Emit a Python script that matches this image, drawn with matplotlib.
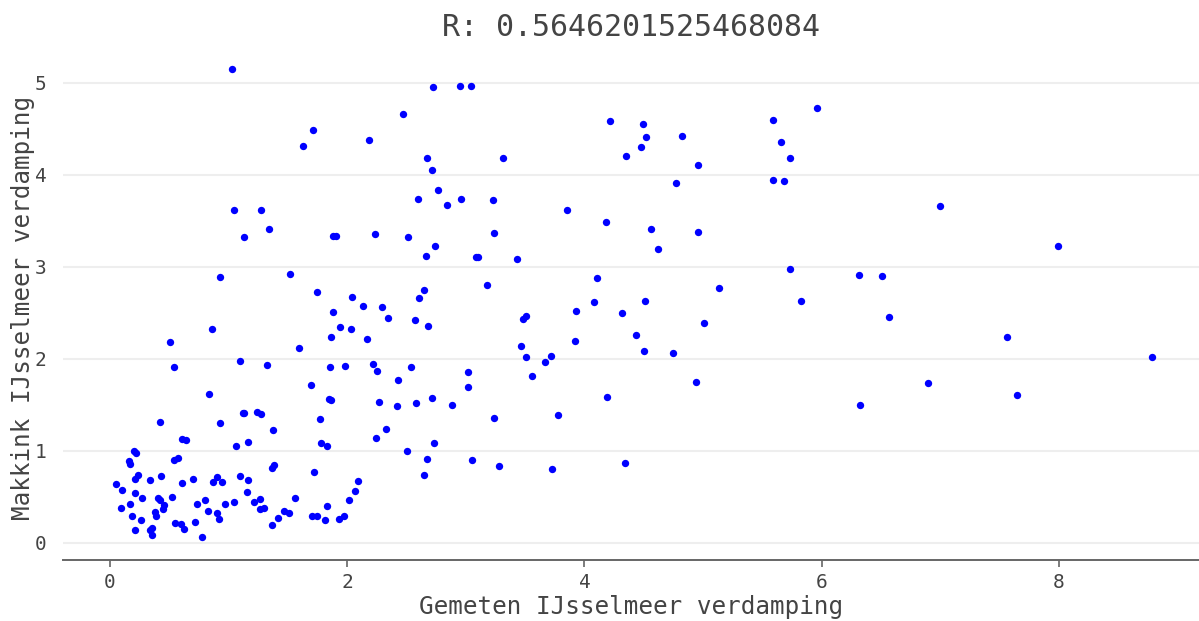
import matplotlib.pyplot as plt

# gemeten verdamping (x) tegen Makkink verdamping (y), per dag
gemeten = [
    1.694, 0.837, 1.843, 1.860, 0.419, 0.930, 1.118, 1.132, 1.242, 1.275,
    1.767, 1.377, 0.604, 0.641, 1.781, 1.829, 1.163, 1.065, 0.202, 0.219,
    0.160, 0.166, 0.537, 0.570, 1.368, 1.385, 1.717, 0.233, 0.208, 0.334,
    0.430, 0.053, 0.104, 0.213, 0.267, 0.604, 0.702, 0.899, 0.871, 0.941,
    1.098, 1.160, 1.152, 2.093, 2.068, 2.017, 0.520, 0.405, 0.424, 0.093,
    0.166, 0.453, 0.444, 0.382, 0.390, 0.183, 0.259, 0.208, 0.354, 0.340,
    0.354, 0.733, 0.803, 0.829, 0.902, 0.916, 0.967, 1.043, 0.716, 0.545,
    0.598, 0.624, 0.778, 1.214, 1.264, 1.267, 1.300, 1.466, 1.506, 1.557,
    1.368, 1.416, 1.702, 1.742, 1.810, 1.832, 1.927, 1.975,
    1.043, 1.275, 1.343, 1.129, 1.882, 1.905, 0.927, 1.517, 1.742, 2.037,
    2.130, 1.877, 1.941, 2.028, 1.865, 0.860, 1.590, 0.508, 0.542, 1.096,
    1.321, 1.854, 1.978, 1.028, 1.714, 1.627, 2.180,
    2.253, 2.430, 3.017, 3.017, 3.559, 2.265, 2.416, 2.576, 2.717, 2.880,
    4.186, 3.236, 3.773, 2.326, 2.245, 2.733, 2.501, 2.672, 3.048, 3.281,
    3.723, 4.338, 2.644,
    4.183, 2.231, 2.512, 2.739, 2.663, 3.087, 3.104, 3.239, 3.433, 3.175,
    4.102, 2.649, 2.607, 2.292, 2.343, 2.573, 2.683, 2.163, 3.503, 3.486,
    3.925, 4.082, 4.318, 4.436, 3.464, 3.922, 3.506, 3.714, 3.669, 2.219,
    2.540,
    2.722, 2.947, 3.043, 2.469, 4.217, 4.352, 2.672, 3.313, 2.716, 2.767,
    2.598, 2.840, 2.956, 3.228, 3.855,
    4.495, 4.515, 4.473, 4.818, 4.953, 4.770, 4.562, 4.616, 4.953, 5.585,
    5.959, 5.655, 5.731, 5.588, 5.681, 5.731,
    6.315, 6.509, 5.130, 4.512, 5.829, 6.563, 5.009, 4.503, 4.745, 4.941,
    7.001, 7.995, 7.563, 8.785, 6.897, 7.647, 6.324,
]
makkink = [
    1.714, 1.613, 1.559, 1.548, 1.314, 1.300, 1.414, 1.408, 1.425, 1.400,
    1.343, 1.230, 1.126, 1.116, 1.079, 1.047, 1.090, 1.047, 1.000, 0.975,
    0.889, 0.859, 0.895, 0.917, 0.816, 0.849, 0.765, 0.737, 0.690, 0.686,
    0.730, 0.640, 0.575, 0.543, 0.481, 0.646, 0.697, 0.711, 0.665, 0.662,
    0.730, 0.683, 0.553, 0.676, 0.564, 0.467, 0.495, 0.481, 0.467, 0.380,
    0.424, 0.409, 0.362, 0.337, 0.286, 0.286, 0.243, 0.138, 0.160, 0.135,
    0.084, 0.420, 0.467, 0.344, 0.326, 0.257, 0.420, 0.438, 0.229, 0.214,
    0.200, 0.146, 0.059, 0.445, 0.478, 0.365, 0.373, 0.348, 0.326, 0.481,
    0.197, 0.265, 0.290, 0.290, 0.251, 0.402, 0.257, 0.294,
    3.620, 3.620, 3.410, 3.320, 3.330, 3.330, 2.885, 2.924, 2.726, 2.672,
    2.578, 2.510, 2.344, 2.319, 2.232, 2.322, 2.121, 2.186, 1.905, 1.976,
    1.937, 1.912, 1.923, 5.150, 4.490, 4.310, 4.380,
    1.865, 1.764, 1.857, 1.692, 1.810, 1.526, 1.483, 1.519, 1.573, 1.500,
    1.587, 1.357, 1.389, 1.241, 1.133, 1.086, 0.997, 0.914, 0.903, 0.838,
    0.805, 0.867, 0.737,
    3.490, 3.357, 3.320, 3.224, 3.116, 3.110, 3.108, 3.364, 3.090, 2.802,
    2.878, 2.748, 2.661, 2.568, 2.441, 2.420, 2.351, 2.211, 2.463, 2.430,
    2.524, 2.618, 2.500, 2.261, 2.143, 2.189, 2.020, 2.035, 1.966, 1.941,
    1.905,
    4.957, 4.970, 4.967, 4.662, 4.582, 4.207, 4.182, 4.182, 4.052, 3.832,
    3.735, 3.674, 3.739, 3.728, 3.620,
    4.549, 4.413, 4.305, 4.420, 4.103, 3.916, 3.411, 3.195, 3.375, 4.597,
    4.722, 4.359, 4.178, 3.948, 3.933, 2.975,
    2.906, 2.903, 2.770, 2.632, 2.629, 2.449, 2.388, 2.085, 2.063, 1.743,
    3.663, 3.230, 2.236, 2.020, 1.739, 1.602, 1.501,
]

x_ticks = [0, 2, 4, 6, 8]
y_ticks = [0, 1, 2, 3, 4, 5]
r_value = 0.5646201525468084

text_color = '#444444'
plt.rcParams['font.family'] = ['DejaVu Sans Mono', 'DejaVu Sans']

fig = plt.figure(figsize=(11.99, 6.21), dpi=100)
ax = fig.add_axes([0.0525, 0.098, 0.9475, 0.813])

ax.scatter(gemeten, makkink, s=28, color='#0000ff', linewidths=0, zorder=3)

ax.set_xlim(-0.396, 9.18)
ax.set_ylim(-0.19, 5.3)
ax.set_xticks(x_ticks)
ax.set_yticks(y_ticks)

ax.grid(axis='y', color='#eeeeee', linewidth=1.5)
ax.set_axisbelow(True)
for side in ['left', 'right', 'top']:
    ax.spines[side].set_visible(False)
ax.spines['bottom'].set_color('#666666')
ax.spines['bottom'].set_linewidth(1.4)

ax.tick_params(axis='x', colors='#666666', length=5, width=1.2,
               labelsize=14, labelcolor=text_color, pad=4)
ax.tick_params(axis='y', length=0, labelsize=14, labelcolor=text_color, pad=12)

ax.set_xlabel('Gemeten IJsselmeer verdamping', fontsize=17.5, color=text_color, va='center')
ax.set_ylabel('Makkink IJsselmeer verdamping', fontsize=17.5, color=text_color, va='center')
ax.xaxis.set_label_coords(0.5, -0.093)
ax.yaxis.set_label_coords(-0.035, 0.5)
ax.set_title(f'R: {r_value}', fontsize=21.5, color=text_color, pad=14)

fig.savefig('out.png', dpi=100)
